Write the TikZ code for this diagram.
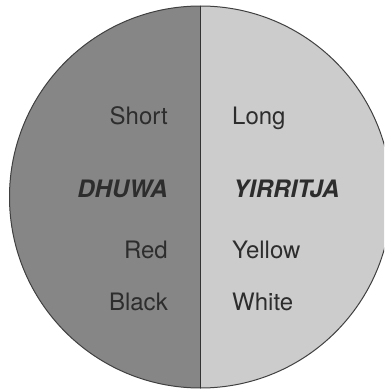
\documentclass[tikz,border=0pt]{standalone}
\usepackage{fontspec}
\setmainfont{TeX Gyre Heros}
\usepackage{xcolor}
\usepackage{tikz}
\usetikzlibrary{calc}

\definecolor{dhuwagray}{RGB}{134,134,134}
\definecolor{yirritjagray}{RGB}{204,204,204}
\definecolor{inkgray}{RGB}{45,45,45}

\begin{document}
\begin{tikzpicture}[x=1pt, y=-1pt,
    sidetext/.style={text=inkgray, inner sep=0pt, font=\fontsize{24}{28}\selectfont},
    moietytext/.style={sidetext, font=\fontsize{24}{28}\selectfont\bfseries\itshape}]

    % =================================================================
    % 1. KHUNG HINH VA TOA DO CHINH
    % =================================================================
    \useasboundingbox (0,0) rectangle (384,390);
    \clip (0,0) rectangle (384,390);

    \coordinate (Centre) at (200.5,197);
    \coordinate (Top) at (200.5,6);
    \coordinate (Bottom) at (200.5,388);

    % =================================================================
    % 2. HAI NUA HINH TRON
    % =================================================================
    % Nua phai sang mau
    \fill[yirritjagray] (Centre) circle[radius=191];

    % Nua trai toi mau
    \begin{scope}
        \clip (Centre) circle[radius=191];
        \fill[dhuwagray] (0,0) rectangle (200.5,390);
    \end{scope}

    % Vien tron va duong chia doi
    \draw[line width=1pt, black!75] (Centre) circle[radius=191];
    \draw[line width=1.4pt, black!80] (Top) -- (Bottom);

    % =================================================================
    % 3. NHAN HAI BEN
    % =================================================================
    \node[sidetext, anchor=base east] (short) at (168,125) {Short};
    \node[sidetext, anchor=base west] (long) at (232,125) {Long};

    \node[moietytext, anchor=base east] (dhuwa) at (168,197) {DHUWA};
    \node[moietytext, anchor=base west] (yirritja) at (233,197) {YIRRITJA};

    \node[sidetext, anchor=base east] (red) at (168,258) {Red};
    \node[sidetext, anchor=base west] (yellow) at (232,258) {Yellow};

    \node[sidetext, anchor=base east] (black) at (168,310) {Black};
    \node[sidetext, anchor=base west] (white) at (232,310) {White};

\end{tikzpicture}
\end{document}
